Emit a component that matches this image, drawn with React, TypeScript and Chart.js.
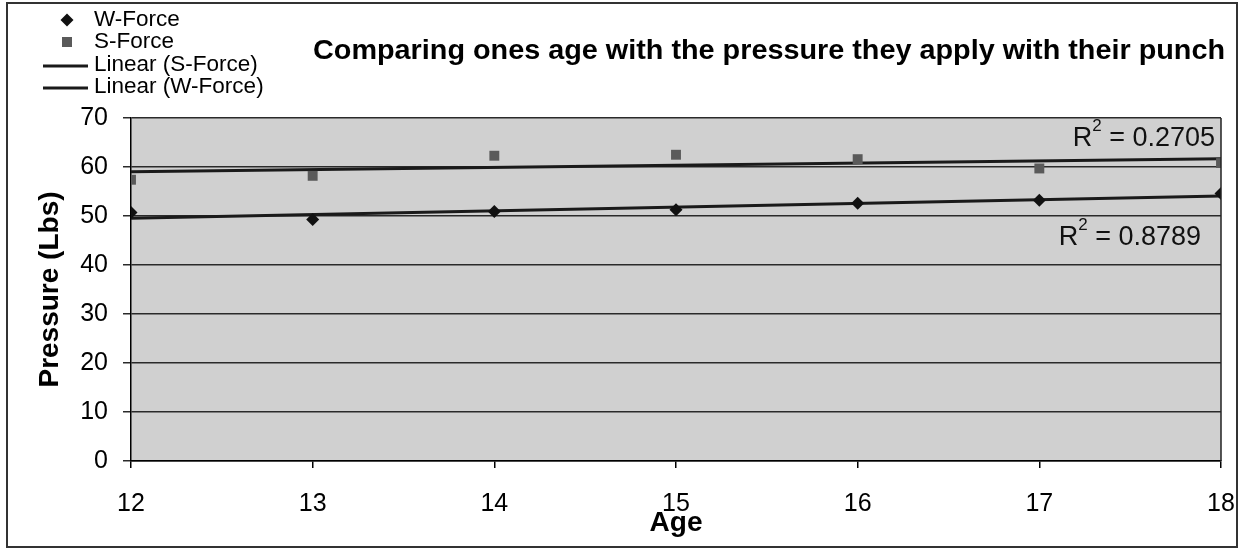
import React, { useEffect, useRef } from 'react';
import { Chart, registerables } from 'chart.js';

Chart.register(...registerables);

const ages = [12, 13, 14, 15, 16, 17, 18];
const wForce = [50.7, 49.3, 50.9, 51.3, 52.6, 53.2, 54.6];
const sForce = [57.4, 58.2, 62.3, 62.5, 61.6, 59.7, 60.8];
const legendLabels = ['W-Force', 'S-Force', 'Linear (S-Force)', 'Linear (W-Force)'];
const chartTitle = 'Comparing ones age with the pressure they apply with their punch';
const xTitle = 'Age';
const yTitle = 'Pressure (Lbs)';
const rSquaredS = '0.2705';
const rSquaredW = '0.8789';
const yMin = 0;
const yMax = 70;
const yStep = 10;

const FONT = '"Liberation Sans", Arial, sans-serif';

function fit(xs: number[], ys: number[]) {
  const n = xs.length;
  const mx = xs.reduce((a, b) => a + b, 0) / n;
  const my = ys.reduce((a, b) => a + b, 0) / n;
  let sxy = 0;
  let sxx = 0;
  for (let i = 0; i < n; i++) {
    sxy += (xs[i] - mx) * (ys[i] - my);
    sxx += (xs[i] - mx) * (xs[i] - mx);
  }
  const m = sxy / sxx;
  const b = my - m * mx;
  return (x: number) => b + m * x;
}

function drawR2(ctx: CanvasRenderingContext2D, value: string, right: number, cy: number) {
  ctx.textBaseline = 'middle';
  ctx.textAlign = 'left';
  ctx.font = `27px ${FONT}`;
  const rest = ' = ' + value;
  const wR = ctx.measureText('R').width;
  const wRest = ctx.measureText(rest).width;
  ctx.font = `17px ${FONT}`;
  const wSup = ctx.measureText('2').width;
  const total = wR + wSup + wRest;
  let x = right - total;
  ctx.font = `27px ${FONT}`;
  ctx.fillText('R', x, cy);
  x += wR;
  ctx.font = `17px ${FONT}`;
  ctx.fillText('2', x, cy - 12);
  x += wSup;
  ctx.font = `27px ${FONT}`;
  ctx.fillText(rest, x, cy);
}

export default function App() {
  const ref = useRef<HTMLCanvasElement | null>(null);

  useEffect(() => {
    if (!ref.current) return;
    const fS = fit(ages, sForce);
    const fW = fit(ages, wForce);
    const x0 = ages[0];
    const x1 = ages[ages.length - 1];

    const decor = {
      id: 'decor',
      beforeDraw(chart: any) {
        const { ctx, chartArea: a } = chart;
        ctx.save();
        ctx.fillStyle = '#ffffff';
        ctx.fillRect(0, 0, chart.width, chart.height);
        ctx.fillStyle = '#d0d0d0';
        ctx.fillRect(a.left, a.top, a.right - a.left, a.bottom - a.top);
        ctx.restore();
      },
      afterDraw(chart: any) {
        const { ctx, chartArea: a } = chart;
        const ys = chart.scales.y;
        ctx.save();
        // plot right border
        ctx.strokeStyle = '#222';
        ctx.lineWidth = 1.5;
        ctx.beginPath();
        ctx.moveTo(a.right, a.top);
        ctx.lineTo(a.right, a.bottom);
        ctx.stroke();
        // outer frame
        ctx.lineWidth = 2;
        ctx.strokeStyle = '#333';
        ctx.strokeRect(7, 3, 1230, 544);
        // title (stretched to the reference width)
        ctx.fillStyle = '#000';
        ctx.font = `bold 27px ${FONT}`;
        ctx.textAlign = 'center';
        ctx.textBaseline = 'middle';
        const tw = ctx.measureText(chartTitle).width;
        const sx = 912 / tw;
        ctx.save();
        ctx.translate(769, 52);
        ctx.scale(sx, 1);
        ctx.fillText(chartTitle, 0, 0);
        ctx.restore();
        // legend
        const ds = chart.data.datasets;
        const rows = [20, 42, 65, 87];
        ctx.font = `22.5px ${FONT}`;
        ctx.textAlign = 'left';
        ctx.textBaseline = 'middle';
        for (let i = 0; i < 4; i++) {
          const d = ds[i];
          const cy = rows[i];
          const cx = 67;
          if (d.pointStyle === 'rectRot') {
            ctx.fillStyle = d.backgroundColor;
            ctx.beginPath();
            ctx.moveTo(cx, cy - 6.5);
            ctx.lineTo(cx + 6.5, cy);
            ctx.lineTo(cx, cy + 6.5);
            ctx.lineTo(cx - 6.5, cy);
            ctx.closePath();
            ctx.fill();
          } else if (d.pointStyle === 'rect') {
            ctx.fillStyle = d.backgroundColor;
            ctx.fillRect(cx - 5, cy - 5, 10, 10);
          } else {
            ctx.strokeStyle = d.borderColor;
            ctx.lineWidth = 3;
            ctx.beginPath();
            ctx.moveTo(43, cy + 1);
            ctx.lineTo(88, cy + 1);
            ctx.stroke();
          }
          ctx.fillStyle = '#000';
          ctx.fillText(d.label, 94, cy);
        }
        // R squared labels
        ctx.fillStyle = '#111';
        drawR2(ctx, rSquaredS, a.right - 6, ys.getPixelForValue(65.8));
        drawR2(ctx, rSquaredW, a.right - 20, ys.getPixelForValue(45.6));
        ctx.restore();
      },
    };

    const chart = new Chart(ref.current, {
      type: 'scatter',
      data: {
        datasets: [
          {
            label: legendLabels[0],
            data: ages.map((x, i) => ({ x, y: wForce[i] })),
            pointStyle: 'rectRot',
            pointRadius: 6.5,
            backgroundColor: '#111111',
            borderColor: '#111111',
            borderWidth: 0,
          },
          {
            label: legendLabels[1],
            data: ages.map((x, i) => ({ x, y: sForce[i] })),
            pointStyle: 'rect',
            pointRadius: 7,
            backgroundColor: '#5a5a5a',
            borderColor: '#5a5a5a',
            borderWidth: 0,
          },
          {
            type: 'line',
            label: legendLabels[2],
            data: [
              { x: x0, y: fS(x0) },
              { x: x1, y: fS(x1) },
            ],
            borderColor: '#1a1a1a',
            borderWidth: 3,
            pointRadius: 0,
            fill: false,
          },
          {
            type: 'line',
            label: legendLabels[3],
            data: [
              { x: x0, y: fW(x0) },
              { x: x1, y: fW(x1) },
            ],
            borderColor: '#1a1a1a',
            borderWidth: 3,
            pointRadius: 0,
            fill: false,
          },
        ],
      } as any,
      options: {
        responsive: false,
        animation: false,
        devicePixelRatio: 1,
        layout: { padding: { left: 0, top: 118, right: 20, bottom: 0 } },
        plugins: {
          legend: { display: false },
          tooltip: { enabled: false },
          title: { display: false },
        },
        scales: {
          x: {
            type: 'linear',
            min: x0,
            max: x1,
            ticks: { stepSize: 1, font: { size: 25, family: FONT }, color: '#000', padding: 21, maxRotation: 0 },
            grid: { drawOnChartArea: false, drawTicks: true, tickLength: 7, color: '#000', lineWidth: 1.5 },
            border: { color: '#000', width: 1.5 },
            title: {
              display: true,
              text: xTitle,
              font: { size: 28, weight: 'bold', family: FONT },
              color: '#000',
              padding: { top: 0, bottom: 12 },
            },
            afterFit: (s: any) => {
              s.height = 91;
              s.paddingLeft = 0;
              s.paddingRight = 0;
            },
          },
          y: {
            min: yMin,
            max: yMax,
            ticks: { stepSize: yStep, font: { size: 25, family: FONT }, color: '#000', padding: 15 },
            grid: { color: '#2a2a2a', lineWidth: 1.5, tickLength: 8, drawTicks: true },
            border: { color: '#000', width: 1.5 },
            title: {
              display: true,
              text: yTitle,
              font: { size: 28, weight: 'bold', family: FONT },
              color: '#000',
              padding: { top: 33, bottom: 0 },
            },
            afterFit: (s: any) => {
              s.width = 131;
              s.paddingTop = 0;
              s.paddingBottom = 0;
            },
          },
        },
      } as any,
      plugins: [decor],
    });
    return () => chart.destroy();
  }, []);

  return (
    <div style={{ position: 'absolute', left: 0, top: 0, width: 1241, height: 552 }}>
      <canvas ref={ref} width={1241} height={552} style={{ display: 'block', width: 1241, height: 552 }} />
    </div>
  );
}
